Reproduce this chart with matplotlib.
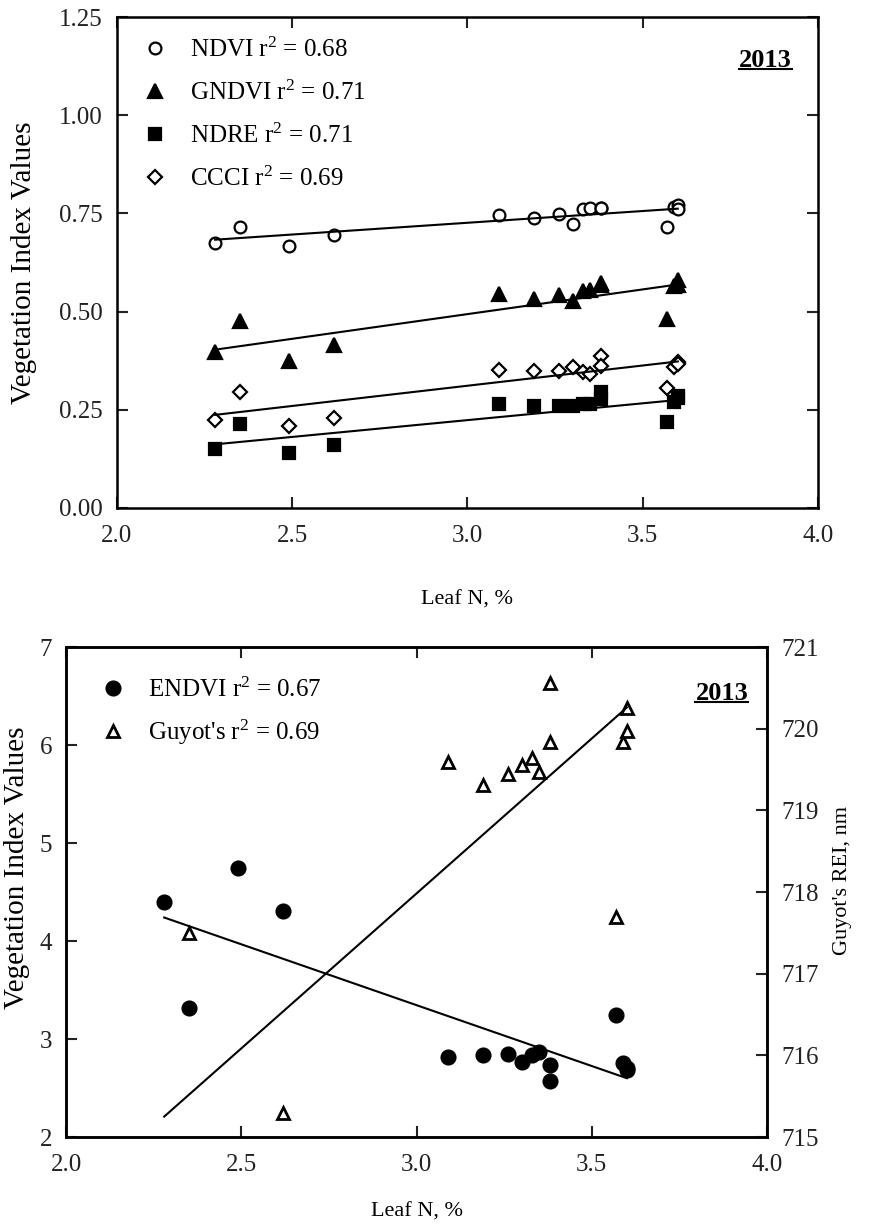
import numpy as np
import matplotlib
matplotlib.use("Agg")
import matplotlib.pyplot as plt
from matplotlib.lines import Line2D
from matplotlib.ticker import FormatStrFormatter

plt.rcParams['font.family'] = ['Liberation Serif', 'DejaVu Serif']
plt.rcParams['mathtext.fontset'] = 'custom'
plt.rcParams['mathtext.rm'] = 'Liberation Serif'
plt.rcParams['mathtext.it'] = 'Liberation Serif:italic'
plt.rcParams['mathtext.bf'] = 'Liberation Serif:bold'

# Leaf N (%) of each sample
leaf_n = [2.28, 2.35, 2.49, 2.62, 3.09, 3.19, 3.26, 3.30, 3.33, 3.35, 3.38, 3.38, 3.57, 3.59, 3.60, 3.60]

# top panel indices
ndvi = [0.675, 0.715, 0.666, 0.695, 0.747, 0.737, 0.748, 0.724, 0.761, 0.764, 0.764, 0.763, 0.715, 0.766, 0.771, 0.762]
gndvi = [0.396, 0.475, 0.374, 0.414, 0.544, 0.532, 0.542, 0.527, 0.553, 0.555, 0.574, 0.568, 0.480, 0.566, 0.580, 0.568]
ndre = [0.151, 0.215, 0.139, 0.160, 0.264, 0.259, 0.259, 0.259, 0.264, 0.264, 0.295, 0.277, 0.219, 0.271, 0.285, 0.280]
ccci = [0.224, 0.296, 0.209, 0.230, 0.351, 0.348, 0.348, 0.359, 0.345, 0.342, 0.386, 0.362, 0.305, 0.359, 0.371, 0.366]

# bottom panel
endvi = [4.40, 3.32, 4.75, 4.31, 2.82, 2.84, 2.85, 2.77, 2.84, 2.87, 2.73, 2.57, 3.25, 2.76, 2.68, 2.70]
guyot_n = [2.35, 2.62, 3.09, 3.19, 3.26, 3.30, 3.33, 3.35, 3.38, 3.38, 3.57, 3.59, 3.60, 3.60]
guyot = [717.50, 715.29, 719.59, 719.31, 719.45, 719.56, 719.64, 719.47, 720.56, 719.84, 717.69, 719.84, 720.25, 719.97]

# regression lines (end points)
fit_n = [2.28, 3.60]
ndvi_fit = [0.683, 0.762]
gndvi_fit = [0.403, 0.569]
ndre_fit = [0.162, 0.275]
ccci_fit = [0.237, 0.373]
endvi_fit = [4.24, 2.60]
guyot_fit = [715.25, 720.26]

fig = plt.figure(figsize=(8.69, 12.32), dpi=100)
ax1 = fig.add_axes([0.1346, 0.5877, 0.8067, 0.3985])
ax2 = fig.add_axes([0.0760, 0.0771, 0.8067, 0.3977])
ax3 = ax2.twinx()

mk = dict(linestyle='none', color='k', markeredgecolor='k', markeredgewidth=1.6)
h1, = ax1.plot(leaf_n, ndvi, marker='o', markerfacecolor='white', markersize=8.5, **mk)
h2, = ax1.plot(leaf_n, gndvi, marker='^', markersize=9.5, **mk)
h3, = ax1.plot(leaf_n, ndre, marker='s', markersize=8, **mk)
h4, = ax1.plot(leaf_n, ccci, marker='D', markerfacecolor='white', markersize=7.5, **mk)
for f in (ndvi_fit, gndvi_fit, ndre_fit, ccci_fit):
    ax1.plot(fit_n, f, color='k', lw=1.5)

g1, = ax2.plot(leaf_n, endvi, marker='o', markersize=10, **mk)
ax2.plot(fit_n, endvi_fit, color='k', lw=1.5)
g2, = ax3.plot(guyot_n, guyot, marker='^', markerfacecolor='white', markersize=8,
               linestyle='none', color='k', markeredgewidth=2)
ax3.plot(fit_n, guyot_fit, color='k', lw=1.5)

ax1.set_xlim(2.0, 4.0)
ax1.set_ylim(0.0, 1.25)
ax1.set_xticks([2.0, 2.5, 3.0, 3.5, 4.0])
ax1.set_yticks([0.0, 0.25, 0.5, 0.75, 1.0, 1.25])
ax1.xaxis.set_major_formatter(FormatStrFormatter('%.1f'))
ax1.yaxis.set_major_formatter(FormatStrFormatter('%.2f'))

ax2.set_xlim(2.0, 4.0)
ax2.set_ylim(2, 7)
ax3.set_ylim(715, 721)
ax2.set_xticks([2.0, 2.5, 3.0, 3.5, 4.0])
ax2.xaxis.set_major_formatter(FormatStrFormatter('%.1f'))
ax2.set_yticks(range(2, 8))
ax3.set_yticks(range(715, 722))

for ax in (ax1, ax2, ax3):
    for s in ax.spines.values():
        s.set_linewidth(1.8)
    ax.tick_params(direction='in', length=8, width=1.5, labelsize=18, colors='#222222')
    ax.tick_params(axis='x', pad=12)
    ax.tick_params(axis='y', pad=10)
ax1.tick_params(top=True, right=True)
ax2.tick_params(top=True, right=False)
ax3.tick_params(right=True, left=False)

ax1.set_xlabel('Leaf N, %', fontsize=16)
ax1.set_ylabel('Vegetation Index Values', fontsize=21)
ax1.xaxis.set_label_coords(0.5, -0.169)
ax1.yaxis.set_label_coords(-0.114, 0.5)

ax2.set_xlabel('Leaf N, %', fontsize=16)
ax2.set_ylabel('Vegetation Index Values', fontsize=21)
ax3.set_ylabel("Guyot's REI, nm", fontsize=16)
ax2.xaxis.set_label_coords(0.5, -0.133)
ax2.yaxis.set_label_coords(-0.052, 0.55)
ax3.yaxis.set_label_coords(1.094, 0.524)

ax1.legend([h1, h2, h3, h4],
           ['NDVI r$^2$ = 0.68', 'GNDVI r$^2$ = 0.71', 'NDRE r$^2$ = 0.71', 'CCCI r$^2$ = 0.69'],
           loc='upper left', bbox_to_anchor=(0.036, 0.958), frameon=False, fontsize=18,
           handlelength=1.0, handletextpad=0.9, labelspacing=0.75, borderpad=0, borderaxespad=0)
ax3.legend([g1, g2], ['ENDVI r$^2$ = 0.67', "Guyot's r$^2$ = 0.69"],
           loc='upper left', bbox_to_anchor=(0.0485, 0.938), frameon=False, fontsize=18,
           handlelength=1.0, handletextpad=0.9, labelspacing=0.62, borderpad=0, borderaxespad=0)

t1 = ax1.text(0.963, 0.912, '2013', transform=ax1.transAxes, ha='right', va='center',
              fontsize=19, fontweight='bold')
t2 = ax3.text(0.973, 0.906, '2013', transform=ax3.transAxes, ha='right', va='center',
              fontsize=19, fontweight='bold')

# underline the year labels
fig.canvas.draw()
inv = fig.transFigure.inverted()
for t in (t1, t2):
    bb = t.get_window_extent()
    (x0, y0), (x1, y1) = inv.transform([(bb.x0, bb.y0 + 3), (bb.x1, bb.y0 + 3)])
    fig.add_artist(Line2D([x0, x1], [y0, y1], color='k', lw=1.5))

fig.savefig('out.png', dpi=100)
